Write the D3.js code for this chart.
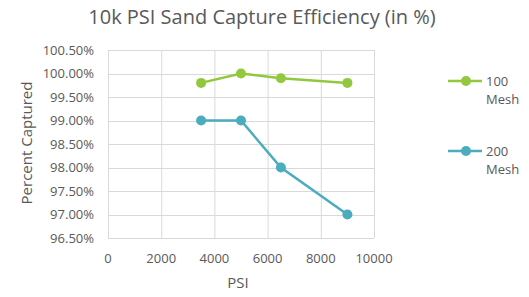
<!DOCTYPE html>
<html>
<head>
<meta charset="utf-8">
<script src="https://cdn.jsdelivr.net/npm/d3@7"></script>
<style>
  body { margin: 0; background: #fff; }
  text { font-family: "Open Sans", "DejaVu Sans", sans-serif; fill: #595959; }
</style>
</head>
<body>
<div id="chart-area"></div>
<script>
const psi = [3500, 5000, 6500, 9000];
const mesh100 = [99.8, 100.0, 99.9, 99.8];
const mesh200 = [99.0, 99.0, 98.0, 97.0];
const seriesNames = ["100 Mesh", "200 Mesh"];
const seriesColors = ["#92c83e", "#4bacbe"];
const xTicks = [0, 2000, 4000, 6000, 8000, 10000];
const yTicks = [96.5, 97, 97.5, 98, 98.5, 99, 99.5, 100, 100.5];

const margin = {top: 50, left: 108};
const width = 266;
const height = 188;

const svg = d3.select("#chart-area")
  .append("svg")
  .attr("width", 529)
  .attr("height", 297);

const g = svg.append("g")
  .attr("transform", `translate(${margin.left},${margin.top})`);

const x = d3.scaleLinear().domain([0, 10000]).range([0, width]);
const y = d3.scaleLinear().domain([96.5, 100.5]).range([height, 0]);

// grid
g.selectAll(".x-grid")
  .data(xTicks)
  .enter()
  .append("line")
  .attr("x1", d => x(d) + 0.5)
  .attr("x2", d => x(d) + 0.5)
  .attr("y1", 0)
  .attr("y2", height)
  .attr("stroke", "#d9d9d9");

g.selectAll(".y-grid")
  .data(yTicks)
  .enter()
  .append("line")
  .attr("x1", 0)
  .attr("x2", width)
  .attr("y1", d => Math.round(y(d)) + 0.5)
  .attr("y2", d => Math.round(y(d)) + 0.5)
  .attr("stroke", "#d9d9d9");

// tick labels
g.selectAll(".x-label")
  .data(xTicks)
  .enter()
  .append("text")
  .attr("x", d => x(d))
  .attr("y", height + 25)
  .attr("text-anchor", "middle")
  .style("font-size", "13px")
  .text(d => d);

g.selectAll(".y-label")
  .data(yTicks)
  .enter()
  .append("text")
  .attr("x", -14)
  .attr("y", d => y(d))
  .attr("dy", "0.35em")
  .attr("text-anchor", "end")
  .style("font-size", "13px")
  .text(d => d.toFixed(2) + "%");

// series
const series = [mesh100, mesh200];
const line = d3.line()
  .x((d, i) => x(psi[i]))
  .y(d => y(d));

series.forEach((vals, s) => {
  g.append("path")
    .datum(vals)
    .attr("d", line)
    .attr("fill", "none")
    .attr("stroke", seriesColors[s])
    .attr("stroke-width", 2.5);
  g.selectAll(".pt" + s)
    .data(vals)
    .enter()
    .append("circle")
    .attr("cx", (d, i) => x(psi[i]))
    .attr("cy", d => y(d))
    .attr("r", 5)
    .attr("fill", seriesColors[s]);
});

// title and axis titles
svg.append("text")
  .attr("x", 262)
  .attr("y", 24)
  .attr("text-anchor", "middle")
  .style("font-size", "20px")
  .text("10k PSI Sand Capture Efficiency (in %)");

svg.append("text")
  .attr("text-anchor", "middle")
  .attr("transform", "rotate(-90)")
  .attr("x", -143)
  .attr("y", 32)
  .style("font-size", "15px")
  .text("Percent Captured");

svg.append("text")
  .attr("x", 238)
  .attr("y", 288)
  .attr("text-anchor", "middle")
  .style("font-size", "15px")
  .text("PSI");

// legend
const legendY = [81, 151];
seriesNames.forEach((name, s) => {
  const lg = svg.append("g").attr("transform", `translate(448,${legendY[s]})`);
  lg.append("line")
    .attr("x1", 0).attr("x2", 34)
    .attr("stroke", seriesColors[s])
    .attr("stroke-width", 2.5);
  lg.append("circle")
    .attr("cx", 18).attr("r", 5)
    .attr("fill", seriesColors[s]);
  const parts = name.split(" ");
  lg.append("text")
    .attr("x", 38).attr("dy", "0.35em")
    .style("font-size", "13px")
    .text(parts[0]);
  lg.append("text")
    .attr("x", 38).attr("y", 18).attr("dy", "0.35em")
    .style("font-size", "13px")
    .text(parts[1]);
});
</script>
</body>
</html>
